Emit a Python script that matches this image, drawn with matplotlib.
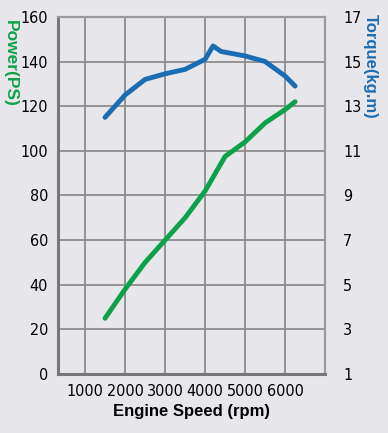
import matplotlib.pyplot as plt

# data
rpm_power = [1500, 2000, 2500, 3000, 3500, 4000, 4500, 5000, 5500, 6000, 6250]
power_ps = [25, 38, 50, 60, 70, 82, 97.5, 104, 112.5, 118.5, 122]

rpm_torque = [1500, 2000, 2500, 3000, 3500, 4000, 4200, 4400, 5000, 5500, 6000, 6250]
torque_kgm = [12.5, 13.5, 14.2, 14.45, 14.65, 15.1, 15.7, 15.45, 15.25, 15.0, 14.35, 13.9]

x_ticks = [1000, 2000, 3000, 4000, 5000, 6000]
power_ticks = [0, 20, 40, 60, 80, 100, 120, 140, 160]
torque_ticks = [1, 3, 5, 7, 9, 11, 13, 15, 17]

bg = "#e6e6eb"
green = "#0ea14b"
blue = "#1a6db3"
grid_col = "#8c8c8c"

fig = plt.figure(figsize=(3.88, 4.33), dpi=100, facecolor=bg)
ax = fig.add_axes([0.149, 0.136, 0.689, 0.825])
ax.set_facecolor(bg)

ax.set_xlim(320, 7000)
ax.set_ylim(0, 160)
ax.set_xticks(x_ticks)
ax.set_yticks(power_ticks)
ax.grid(True, color=grid_col, linewidth=1.3)
ax.set_axisbelow(True)
ax.tick_params(length=0, pad=7)
for lab in ax.get_xticklabels() + ax.get_yticklabels():
    lab.set_family("DejaVu Sans")
    lab.set_stretch("condensed")
    lab.set_fontsize(11.5)

for side in ["left", "bottom"]:
    ax.spines[side].set_color("#777777")
    ax.spines[side].set_linewidth(2.2)
for side in ["top", "right"]:
    ax.spines[side].set_color("#9a9a9a")
    ax.spines[side].set_linewidth(1.6)

ax2 = ax.twinx()
ax2.set_ylim(1, 17)
ax2.set_yticks(torque_ticks)
ax2.tick_params(length=0, pad=13)
for lab in ax2.get_yticklabels():
    lab.set_family("DejaVu Sans")
    lab.set_stretch("condensed")
    lab.set_fontsize(11.5)
for s in ax2.spines.values():
    s.set_visible(False)

ax.plot(rpm_power, power_ps, color=green, linewidth=3.5, solid_capstyle="round",
        solid_joinstyle="round", zorder=3)
ax2.plot(rpm_torque, torque_kgm, color=blue, linewidth=3.5, solid_capstyle="round",
         solid_joinstyle="round", zorder=3)

ax.set_xlabel("Engine Speed (rpm)", fontsize=12, fontweight="bold",
              family="Liberation Sans", labelpad=4)
fig.text(0.027, 0.854, "Power(PS)", rotation=270, color=green, fontsize=12.5,
         fontweight="bold", family="Liberation Sans", ha="center", va="center")
fig.text(0.955, 0.846, "Torque(kg.m)", rotation=270, color=blue, fontsize=12,
         fontweight="bold", family="Liberation Sans", ha="center", va="center")

fig.savefig("out.png", dpi=100, facecolor=bg)
